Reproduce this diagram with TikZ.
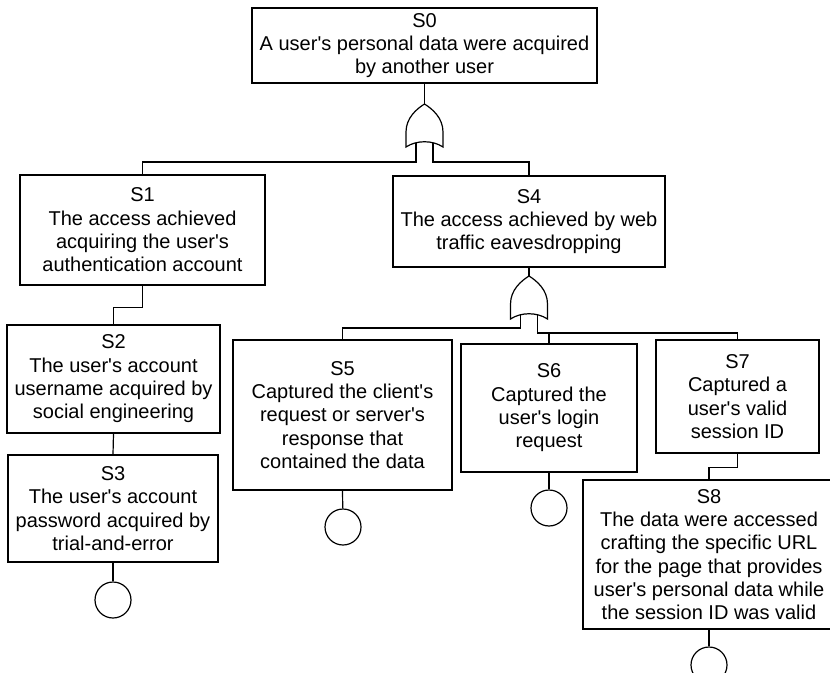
\documentclass[tikz,border=0pt]{standalone}
\usepackage{fontspec}
\setmainfont{Liberation Sans}[Ligatures=TeXOff]

\tikzset{every picture/.style={line width=0.9pt}}
\tikzset{
  event/.style={draw, rectangle, align=center, inner sep=0pt, font=\fontsize{15}{17.5}\selectfont},
  basic/.style={draw, circle, minimum size=27pt, inner sep=0pt},
  orgate/.pic={
    \coordinate (-apex) at (0,0);
    \coordinate (-l) at (-8.5,-39);
    \coordinate (-r) at (8.5,-39);
    \draw (-18.5,-43) -- (-18.5,-28) .. controls (-18.5,-14) and (-8,-5) .. (0,0) .. controls (8,-5) and (18.5,-14) .. (18.5,-28) -- (18.5,-43) .. controls (8,-36) and (-8,-36) .. cycle ;
  }
}

\begin{document}
\begin{tikzpicture}[x=0.75pt,y=0.75pt,yscale=-1,xscale=1]
\useasboundingbox (0,0) rectangle (830,673);

% Top event
\node [event, minimum width=258.75pt, minimum height=56.25pt] (S0) at (424.5,45.5) {S0\\A user's personal data were acquired\\by another user};
% Intermediate events
\node [event, minimum width=183.75pt, minimum height=82.5pt] (S1) at (142.5,230) {S1\\The access achieved\\acquiring the user's\\authentication account};
\node [event, minimum width=204pt, minimum height=68.25pt] (S4) at (529,221.5) {S4\\The access achieved by web\\traffic eavesdropping};
\node [event, minimum width=159.75pt, minimum height=81pt] (S2) at (113.5,379) {S2\\The user's account\\username acquired by\\social engineering};
\node [event, minimum width=157.5pt, minimum height=80.25pt] (S3) at (113,508.5) {S3\\The user's account\\password acquired by\\trial-and-error};
\node [event, minimum width=164.25pt, minimum height=112.5pt] (S5) at (342.5,415) {S5\\Captured the client's\\request or server's\\response that\\contained the data};
\node [event, minimum width=132pt, minimum height=96pt] (S6) at (549,408) {S6\\Captured the\\user's login\\request};
\node [event, minimum width=122.25pt, minimum height=84.75pt] (S7) at (737.5,396.5) {S7\\Captured a\\user's valid\\session ID};
\node [event, minimum width=189pt, minimum height=111.75pt] (S8) at (709,554.5) {S8\\The data were accessed\\crafting the specific URL\\for the page that provides\\user's personal data while\\the session ID was valid};

% Basic events
\node [basic] (B3) at (113,600) {};
\node [basic] (B5) at (343,527) {};
\node [basic] (B6) at (549,508) {};
\node [basic] (B8) at (709,665) {};

% OR gates
\pic (G0) at (424.5,104) {orgate};
\pic (G4) at (529,276) {orgate};

% Connectors
\draw (S0.south) -- (G0-apex) ;
\draw (G0-l) -- ++(0,19) -| (S1.north) ;
\draw (G0-r) -- ++(0,19) -| (S4.north) ;
\draw (S4.south) -- (G4-apex) ;
\draw (G4-l) -- ++(0,13) -| (S5.north) ;
\draw (G4-r) -- ++(0,18) -| (S7.north) ;
\draw (S6.north) -- ++(0,-11) ;
\draw (S1.south) -- ++(0,22) -| (S2.north) ;
\draw (S2.south) -- (S3.north) ;
\draw (S7.south) -- ++(0,14) -| (S8.north) ;
\draw (S3.south) -- (B3) ;
\draw (S5.south) -- (B5) ;
\draw (S6.south) -- (B6) ;
\draw (S8.south) -- (B8) ;

\end{tikzpicture}
\end{document}
